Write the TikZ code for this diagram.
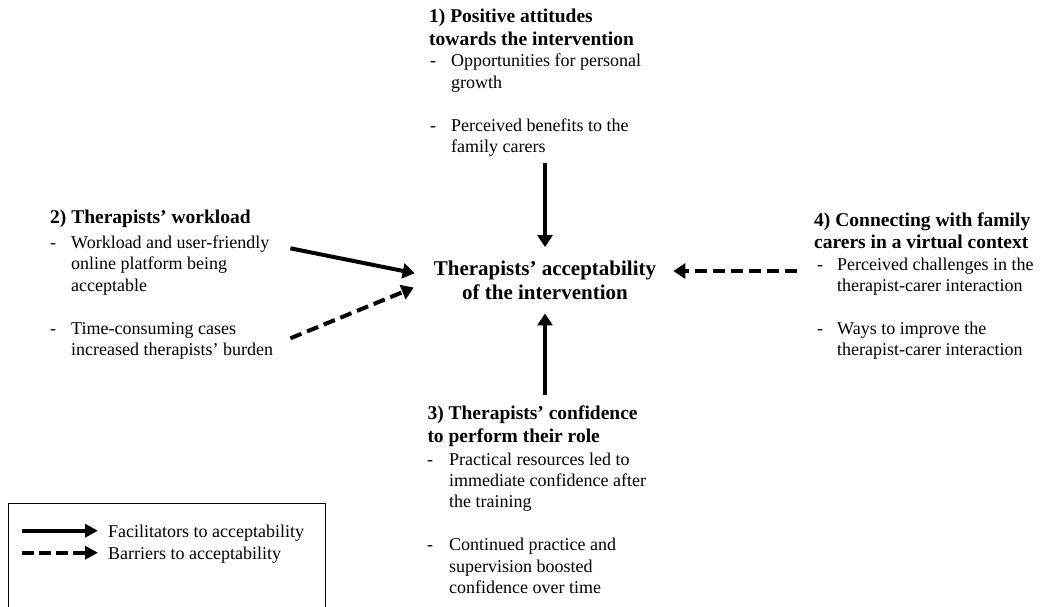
\documentclass[tikz,border=0pt]{standalone}
\usepackage{fontspec}
\setmainfont{Liberation Serif}
\usetikzlibrary{arrows.meta,calc}
\newcommand{\bodyfs}{\fontsize{18}{21.4}\selectfont}
\newcommand{\ttlfs}{\fontsize{19.5}{22.8}\selectfont\bfseries}
\newcommand{\ctrfs}{\fontsize{21}{24.5}\selectfont\bfseries}
\begin{document}
\begin{tikzpicture}[x=1pt,y=-1pt,
  ttl/.style={anchor=north west,inner sep=0pt,align=left,font=\ttlfs},
  body/.style={anchor=north west,inner sep=0pt,font=\bodyfs},
  fac/.style={line width=4pt,-{Triangle[width=15pt,length=12pt]}},
  bar/.style={fac,dash pattern=on 12pt off 6pt},
  legfac/.style={line width=4pt,-{Triangle[width=13pt,length=13pt]}},
  legbar/.style={legfac,dash pattern=on 12pt off 5pt},
  legtext/.style={anchor=base west,inner sep=0pt,font=\bodyfs}
]
\useasboundingbox (0,0) rectangle (1041,606);
\clip (0,0) rectangle (1041,606);

% centre
\node[anchor=north,inner sep=0pt,align=center,font=\ctrfs] (ctr) at (545,257.85)
  {\strut Therapists’ acceptability\\of the intervention\strut};

% block 1
\node[ttl] (b1title) at (429,6.3) {\strut 1) Positive attitudes\\towards the intervention};
\node[body] (b1body) at (430,51.7) {\begin{tabular}{@{}p{21pt}@{}p{200pt}@{}}
-&Opportunities for personal\\
&growth\\
&\\
-&Perceived benefits to the\\
&family carers
\end{tabular}};

% block 2
\node[ttl] (b2title) at (50,207.3) {\strut 2) Therapists’ workload};
\node[body] (b2body) at (50,233.3) {\begin{tabular}{@{}p{21pt}@{}p{220pt}@{}}
-&Workload and user-friendly\\
&online platform being\\
&acceptable\\
&\\
-&Time-consuming cases\\
&increased therapists’ burden
\end{tabular}};

% block 3
\node[ttl] (b3title) at (427.3,403.3) {\strut 3) Therapists’ confidence\\to perform their role};
\node[body] (b3body) at (427,450) {\begin{tabular}{@{}p{22pt}@{}p{220pt}@{}}
-&Practical resources led to\\
&immediate confidence after\\
&the training\\
&\\
-&Continued practice and\\
&supervision boosted\\
&confidence over time
\end{tabular}};

% block 4
\node[ttl] (b4title) at (814,210) {\strut 4) Connecting with family\\carers in a virtual context};
\node[body] (b4body) at (817,255) {\begin{tabular}{@{}p{20pt}@{}p{200pt}@{}}
-&Perceived challenges in the\\
&therapist-carer interaction\\
&\\
-&Ways to improve the\\
&therapist-carer interaction
\end{tabular}};

% connectors
\draw[fac] ($(b1body.south -| ctr.north)+(0,4.3)$) -- ($(ctr.north)+(0,-10.85)$);
\draw[fac] ($(b3title.north -| ctr.south)+(0,-8.3)$) -- ($(ctr.south)+(0,6.2)$);
\draw[bar] ($(b4body.north west)+(-20,16)$) -- ($(ctr.east |- b4body.north west)+(17,16)$);
\draw[fac] ($(b2body.north east)+(-1,15)$) -- ($(ctr.west)+(-19,-9.3)$);
\draw[bar] ($(b2body.north east)+(-1,105)$) -- ($(ctr.west)+(-20,5)$);

% legend
\node[draw,line width=1.3pt,minimum width=317pt,minimum height=200pt,anchor=north west,inner sep=0pt] (legbox) at (8,503) {};
\node[legtext] (legf) at (108,537) {Facilitators to acceptability};
\node[legtext] (legb) at (108,559) {Barriers to acceptability};
\draw[legfac] ($(legf.base west)+(-86,-6.3)$) -- ($(legf.base west)+(-10,-6.3)$);
\draw[legbar] ($(legb.base west)+(-86,-6.3)$) -- ($(legb.base west)+(-10,-6.3)$);
\end{tikzpicture}
\end{document}
